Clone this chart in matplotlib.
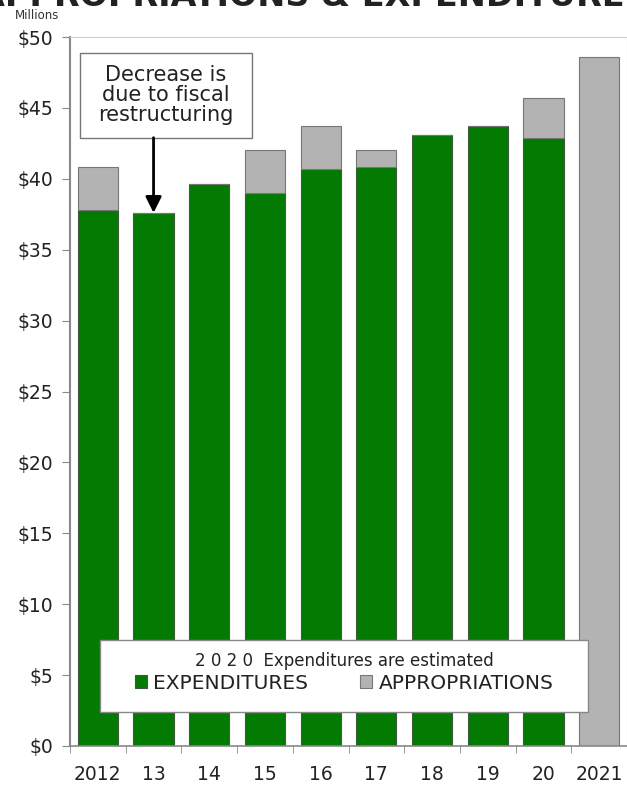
import numpy as np
import matplotlib
matplotlib.use("Agg")
import matplotlib.pyplot as plt
from matplotlib.patches import Rectangle

years = ["2012", "13", "14", "15", "16", "17", "18", "19", "20", "2021"]
expenditures = [37.8, 37.6, 39.6, 39.0, 40.7, 40.8, 43.1, 43.7, 42.9, 0.0]
appropriations = [40.8, 37.6, 39.6, 42.0, 43.7, 42.0, 43.1, 43.7, 45.7, 48.6]
yticks = [0, 5, 10, 15, 20, 25, 30, 35, 40, 45, 50]

green = "#037b03"
grey = "#b3b3b3"

fig = plt.figure(figsize=(6.27, 7.86), dpi=100)
ax = fig.add_axes([70 / 627, 40 / 786, 557 / 627, 709 / 786])

x = np.arange(len(years))
extra = [max(a - e, 0) for a, e in zip(appropriations, expenditures)]

ax.bar(x, expenditures, width=0.72, color=green, edgecolor="#3d5a3d", linewidth=0.8,
       label="EXPENDITURES", zorder=2)
ax.bar(x, extra, width=0.72, bottom=expenditures, color=grey, edgecolor="#777777",
       linewidth=0.8, label="APPROPRIATIONS", zorder=2)

ax.set_xlim(-0.5, 9.42)
ax.set_ylim(0, 50)
ax.set_yticks(yticks)
ax.set_yticklabels([f"${v}" for v in yticks])
ax.set_xticks(x)
ax.set_xticklabels(years)
ax.set_xticks(np.arange(-0.5, 9.6, 1), minor=True)
ax.tick_params(axis="x", which="major", length=0, pad=14, labelsize=13.5, labelcolor="#222222")
ax.tick_params(axis="x", which="minor", length=5, color="#888888", direction="out")
ax.tick_params(axis="y", length=6, color="#888888", labelsize=13.5, labelcolor="#222222", pad=6)

ax.spines["left"].set_color("#888888")
ax.spines["left"].set_linewidth(1.5)
ax.spines["bottom"].set_color("#888888")
ax.spines["bottom"].set_linewidth(1.2)
ax.spines["top"].set_color("#d0d0d0")
ax.spines["right"].set_color("#d0d0d0")

# note box with arrow
ax.add_patch(Rectangle((-0.32, 42.9), 3.09, 6.0, fc="white", ec="#777777", lw=1, zorder=4))
ax.text(1.225, 45.9, "Decrease is\ndue to fiscal\nrestructuring", ha="center", va="center",
        fontsize=15, color="#222222", linespacing=1.0, zorder=5)
ax.annotate("", xy=(1, 37.6), xytext=(1, 42.9),
            arrowprops=dict(arrowstyle="-|>", color="black", lw=2, mutation_scale=24,
                            shrinkA=0, shrinkB=0),
            zorder=5)

# legend box
ax.add_patch(Rectangle((0.054, 0.048), 0.876, 0.102, transform=ax.transAxes,
                       fc="white", ec="#888888", lw=1, zorder=5))
leg = ax.legend(loc="center", bbox_to_anchor=(0.492, 0.104),
                ncol=2, frameon=False,
                title="2 0 2 0  Expenditures are estimated", title_fontsize=12,
                fontsize=14.5, handlelength=0.6, handleheight=0.6, handletextpad=0.3,
                borderpad=0.2, labelspacing=0.2, columnspacing=2.6, borderaxespad=0)
leg.get_title().set_color("#222222")
for t in leg.get_texts():
    t.set_color("#222222")
leg.set_zorder(6)

fig.text(0.024, 1 - 19 / 786, "Millions", fontsize=8.5, color="#333333")
fig.text(0.5, 1 - 6 / 786, "APPROPRIATIONS & EXPENDITURES", fontsize=24,
         fontweight="bold", ha="center", va="baseline", color="#222222")

fig.savefig("out.png", dpi=100)
